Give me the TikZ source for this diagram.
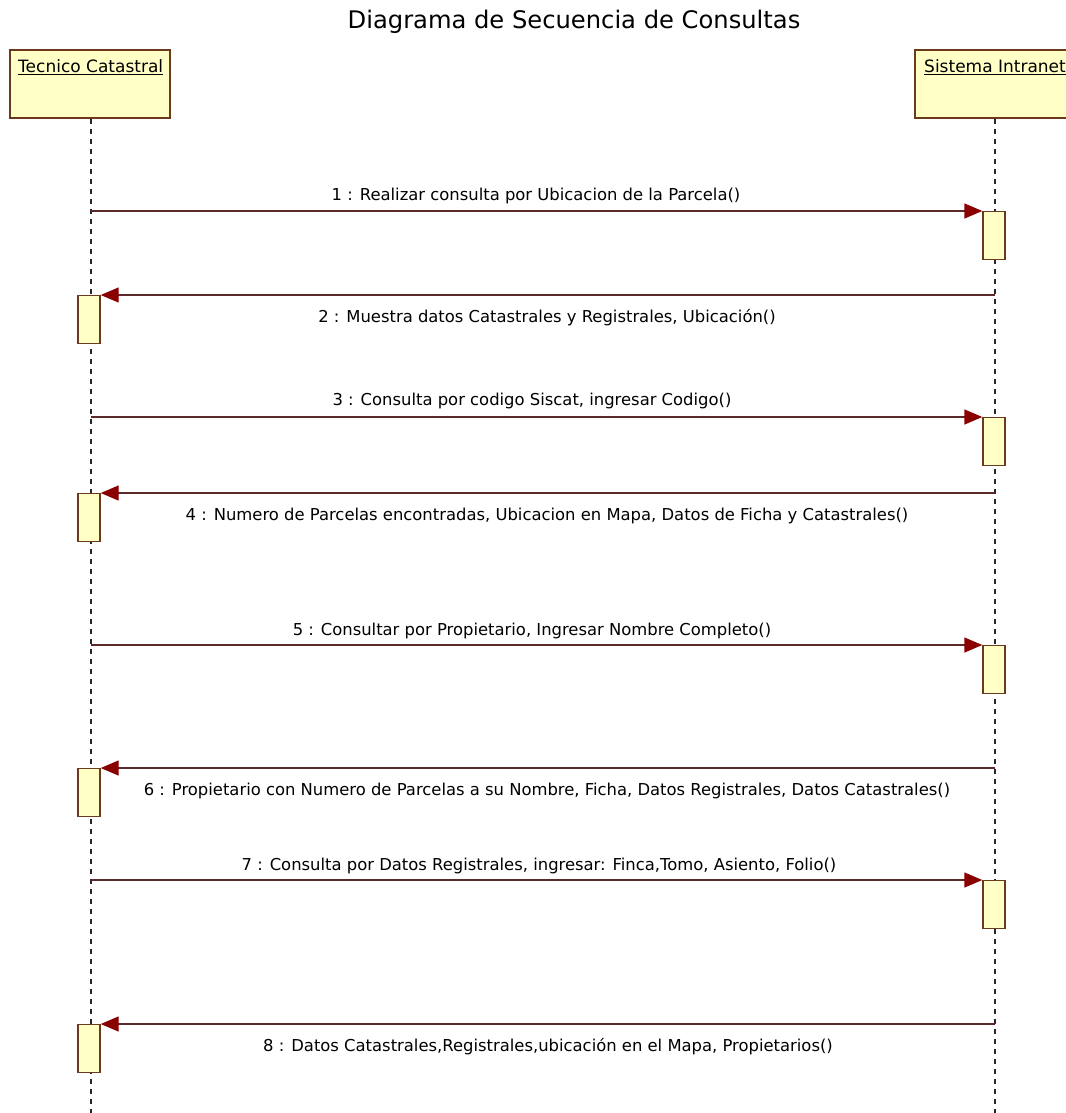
\documentclass[tikz,border=0pt]{standalone}
\usepackage{fontspec}
\setmainfont{DejaVu Sans}
\usetikzlibrary{arrows.meta}
\definecolor{boxfill}{HTML}{FFFFC6}
\definecolor{boxline}{HTML}{6B3A1A}
\definecolor{msgline}{HTML}{5A2A2A}
\definecolor{msghead}{HTML}{8B0000}
\begin{document}
\begin{tikzpicture}[x=1pt,y=-1pt,
  lifehead/.style={draw=boxline,fill=boxfill,line width=1.4pt,minimum width=160pt,minimum height=68pt,inner sep=0pt},
  headtext/.style={font=\fontsize{17}{19}\selectfont,inner sep=0pt},
  lifeline/.style={draw=black!85,line width=1.6pt,dash pattern=on 5pt off 5pt},
  activation/.style={draw=boxline,fill=boxfill,line width=1.4pt,minimum width=22pt,minimum height=48pt,inner sep=0pt,anchor=north},
  msg/.style={draw=msgline,line width=1.4pt,-{Triangle[length=18pt,width=15pt,fill=msghead,color=msghead]}},
  msglabel/.style={font=\fontsize{16.4}{18}\selectfont,text=black,inner sep=0pt}]
\useasboundingbox (0,0) rectangle (1065,1113);
\fill[white] (0,0) rectangle (1065,1113);

% title
\node[font=\fontsize{24.2}{28}\selectfont] (title) at (574,22) {Diagrama de Secuencia de Consultas};

% lifeline heads
\node[lifehead] (tec) at (90,84) {};
\node[lifehead] (sis) at (995,84) {};
\node[headtext,anchor=west] at (18,67) {\underline{Tecnico Catastral}};
\node[headtext,anchor=west] at (924,67) {\underline{Sistema Intranet}};

% lifelines
\coordinate (tecend) at (91,1113);
\coordinate (sisend) at (995,1113);
\draw[lifeline] (tec.south) ++(1,0) -- (tecend);
\draw[lifeline] (sis.south) -- (sisend);

% activations on Sistema Intranet
\node[activation] (s1) at (994,211) {};
\node[activation] (s3) at (994,417) {};
\node[activation] (s5) at (994,645) {};
\node[activation] (s7) at (994,880) {};
% activations on Tecnico Catastral
\node[activation] (t2) at (89,295) {};
\node[activation] (t4) at (89,493) {};
\node[activation] (t6) at (89,768) {};
\node[activation] (t8) at (89,1024) {};

% message origins on the lifelines
\coordinate (o1) at (91,211);
\coordinate (o3) at (91,417);
\coordinate (o5) at (91,645);
\coordinate (o7) at (91,880);
\coordinate (o2) at (995,295);
\coordinate (o4) at (995,493);
\coordinate (o6) at (995,768);
\coordinate (o8) at (995,1024);

% calls
\draw[msg] (o1) -- (s1.north west);
\draw[msg] (o3) -- (s3.north west);
\draw[msg] (o5) -- (s5.north west);
\draw[msg] (o7) -- (s7.north west);
% replies
\draw[msg] (o2) -- (t2.north east);
\draw[msg] (o4) -- (t4.north east);
\draw[msg] (o6) -- (t6.north east);
\draw[msg] (o8) -- (t8.north east);

% labels
\node[msglabel] (l1) at (536,196) {1 : Realizar consulta por Ubicacion de la Parcela()};
\node[msglabel] (l2) at (547,318) {2 : Muestra datos Catastrales y Registrales, Ubicación()};
\node[msglabel] (l3) at (532,401) {3 : Consulta por codigo Siscat, ingresar Codigo()};
\node[msglabel] (l4) at (547,516) {4 : Numero de Parcelas encontradas, Ubicacion en Mapa, Datos de Ficha y Catastrales()};
\node[msglabel] (l5) at (532,631) {5 : Consultar por Propietario, Ingresar Nombre Completo()};
\node[msglabel] (l6) at (547,791) {6 : Propietario con Numero de Parcelas a su Nombre, Ficha, Datos Registrales, Datos Catastrales()};
\node[msglabel] (l7) at (539,866) {7 : Consulta por Datos Registrales, ingresar: Finca,Tomo, Asiento, Folio()};
\node[msglabel] (l8) at (548,1047) {8 : Datos Catastrales,Registrales,ubicación en el Mapa, Propietarios()};
\end{tikzpicture}
\end{document}
